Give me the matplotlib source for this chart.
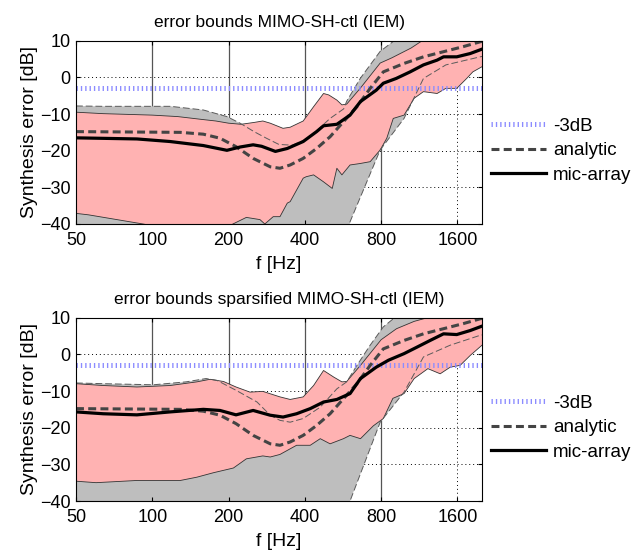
import numpy as np
import matplotlib.pyplot as plt

plt.rcParams['font.family'] = ['Liberation Sans', 'DejaVu Sans']

xticks = [50, 100, 200, 400, 800, 1600]
yticks = [-40, -30, -20, -10, 0, 10]

# analytic error (same in both panels)
ana_f = [50, 129, 159, 185, 214, 250, 292, 319, 350, 394, 445, 503, 568, 642, 724, 816, 985, 1175, 1410, 1690, 1967, 2000]
ana_db = [-14.8, -15.0, -15.5, -16.6, -18.9, -22.1, -24.4, -24.8, -23.9, -22.1, -19.4, -16.2, -12.1, -8.0, -3.0, 1.5, 3.8, 5.6, 7.0, 8.4, 9.7, 9.8]

# ---- panel 1: MIMO-SH-ctl ----
gray_hi1_f = [50, 64, 118, 159, 197, 222, 252, 282, 316, 356, 400, 448, 503, 569, 585, 663, 793, 893, 2000]
gray_hi1_db = [-7.8, -7.9, -7.9, -8.9, -10.7, -12.5, -14.8, -16.6, -18.3, -18.5, -17.1, -14.4, -11.2, -8.6, -6.5, -0.2, 7.1, 9.8, 14]
gray_lo1_f = [50, 590, 603, 793, 985, 1175, 1440, 1967, 2000]
gray_lo1_db = [-45, -45, -39.4, -19.8, -11.2, -0.3, 3.4, 5.6, 5.7]

pink_hi1_f = [50, 64, 100, 126, 158, 178, 200, 224, 252, 273, 292, 328, 350, 394, 433, 474, 497, 535, 560, 585, 663, 793, 880, 1050, 1150, 1400, 2000]
pink_hi1_db = [-9.5, -9.9, -10.3, -10.7, -11.5, -11.9, -12.5, -12.8, -12.3, -11.9, -12.5, -13.9, -13.6, -11.9, -8.0, -4.4, -4.8, -6.2, -7.5, -7.3, -2.9, 3.9, 5.3, 8.0, 9.8, 10.5, 12]
pink_lo1_f = [50, 56, 92, 120, 190, 208, 235, 266, 278, 300, 319, 341, 350, 394, 405, 433, 474, 513, 535, 560, 603, 661, 724, 793, 842, 893, 985, 1080, 1175, 1330, 1440, 1590, 1740, 1840, 2000]
pink_lo1_db = [-37.1, -37.5, -40.0, -41.5, -41.5, -40.0, -38.2, -38.8, -40.0, -38.0, -38.0, -34.3, -33.9, -27.5, -27.1, -26.6, -28.5, -30.3, -24.8, -26.6, -23.9, -23.5, -23.0, -19.8, -16.6, -11.2, -10.3, -5.7, -3.9, -4.4, -3.0, -3.0, -0.3, 1.5, 2.9]

mic1_f = [50, 87, 117.5, 159, 197, 222, 250, 270, 306, 341, 394, 445, 474, 535, 603, 663, 765, 816, 917, 1041, 1175, 1330, 1410, 1590, 1797, 2000]
mic1_db = [-16.5, -16.8, -17.5, -18.6, -19.9, -19.0, -18.4, -18.8, -20.2, -19.4, -17.5, -14.8, -13.2, -12.8, -10.3, -6.6, -3.5, -1.6, -0.3, 1.5, 3.4, 4.7, 5.6, 5.6, 6.5, 7.7]

# ---- panel 2: sparsified MIMO-SH-ctl ----
gray_hi2_f = [50, 64, 101, 136, 163, 180, 214, 259, 292, 319, 350, 394, 460, 535, 585, 642, 724, 816, 893, 2000]
gray_hi2_db = [-7.8, -8.0, -8.3, -7.5, -6.6, -7.1, -9.8, -13.0, -16.6, -18.0, -18.5, -17.5, -14.4, -9.4, -7.5, -3.0, 2.5, 7.5, 9.7, 14]
gray_lo2_f = [50, 590, 603, 793, 985, 1175, 1498, 1967, 2000]
gray_lo2_db = [-45, -45, -40.0, -18.5, -10.3, -0.7, 2.5, 5.2, 5.3]

pink_hi2_f = [50, 64, 87, 117.5, 150, 169, 191, 214, 243, 273, 319, 350, 394, 433, 474, 520, 560, 585, 663, 800, 920, 1080, 1249, 2000]
pink_hi2_db = [-8.0, -8.5, -8.9, -8.5, -7.5, -6.8, -7.4, -8.9, -10.3, -10.1, -11.6, -12.3, -11.6, -8.5, -4.4, -6.2, -7.5, -7.4, -3.0, 4.0, 7.0, 9.0, 10.2, 12]
pink_lo2_f = [50, 60, 87, 129, 150, 174, 209, 235, 273, 292, 319, 371, 420, 460, 503, 568, 603, 663, 745, 816, 890, 985, 1080, 1223, 1368, 1498, 1640, 1797, 2000]
pink_lo2_db = [-34.6, -35.0, -34.4, -34.4, -33.5, -32.3, -31.0, -28.5, -27.7, -28.0, -27.3, -24.8, -24.8, -23.0, -24.4, -23.0, -22.1, -23.0, -19.5, -17.5, -12.0, -10.7, -6.6, -3.9, -5.3, -3.5, -3.0, -0.3, 2.5]

mic2_f = [50, 64, 87, 117.5, 159, 185, 214, 250, 292, 328, 371, 420, 474, 535, 603, 663, 765, 855, 985, 1110, 1249, 1410, 1590, 1797, 2000]
mic2_db = [-15.7, -16.2, -16.5, -15.7, -15.0, -15.3, -16.5, -15.3, -16.6, -17.1, -16.2, -14.8, -13.0, -12.3, -10.7, -6.6, -3.5, -1.6, 0.2, 2.0, 3.8, 5.6, 5.4, 6.5, 7.7]


def band(ax, f_hi, db_hi, f_lo, db_lo, **kw):
    ax.fill(np.r_[f_hi, f_lo[::-1]], np.r_[db_hi, db_lo[::-1]], **kw)


def panel(ax, title, gray_hi, gray_lo, pink_hi, pink_lo, mic):
    ax.set_xscale('log')
    ax.set_xlim(50, 2000)
    ax.set_ylim(-40, 10)

    # grid (below everything)
    for f in [100, 200, 400, 800]:
        ax.axvline(f, color='#555555', lw=0.9, zorder=0.5)
    ax.axvline(1600, color='black', lw=0.7, dashes=(1, 3), zorder=0.5)
    for y in [-30, -20, -10, 0, 10]:
        ax.axhline(y, color='black', lw=0.7, dashes=(1, 3), zorder=0.5)

    band(ax, *gray_hi, *gray_lo, color='#bebebe', lw=0, zorder=1)
    band(ax, *pink_hi, *pink_lo, color='#ffb2b2', lw=0, zorder=2)
    for f, d in (pink_hi, pink_lo):
        ax.plot(f, d, color='#333333', lw=0.6, zorder=3)
    for f, d in (gray_hi, gray_lo):
        ax.plot(f, d, color='#5a5a5a', lw=0.7, dashes=(7, 3), zorder=3)

    ax.axhline(-3, color='#8c8cff', lw=3.6, dashes=(0.27, 0.6), zorder=4, label='-3dB')
    ax.plot(ana_f, ana_db, color='#444444', lw=2.2, dashes=(2.6, 1.4), zorder=5, label='analytic')
    ax.plot(*mic, color='black', lw=2.3, zorder=6, label='mic-array')

    ax.set_xticks(xticks)
    ax.set_xticklabels([str(t) for t in xticks])
    ax.xaxis.set_minor_locator(plt.NullLocator())
    ax.set_yticks(yticks)
    ax.tick_params(direction='in', length=3, top=True, right=True, labelsize=13)
    ax.tick_params(axis='x', pad=6)
    ax.tick_params(axis='y', pad=4)
    for s in ax.spines.values():
        s.set_linewidth(0.8)
        s.set_zorder(7)
    ax.set_title(title, fontsize=12.5, pad=10)
    ax.set_xlabel('f [Hz]', fontsize=14, labelpad=5)
    ax.set_ylabel('Synthesis error [dB]', fontsize=14, labelpad=1)
    ax.legend(loc='center left', bbox_to_anchor=(1.0, 0.40), frameon=False, fontsize=13.5,
              handlelength=2.9, handletextpad=0.4, labelspacing=0.4, borderaxespad=0.1)


fig = plt.figure(figsize=(6.38, 5.54), dpi=100)
ax1 = fig.add_axes([76 / 638, 1 - 224 / 554, 406 / 638, 183.3 / 554])
ax2 = fig.add_axes([76 / 638, 1 - 501 / 554, 406 / 638, 183.3 / 554])

panel(ax1, 'error bounds MIMO-SH-ctl (IEM)',
      (gray_hi1_f, gray_hi1_db), (gray_lo1_f, gray_lo1_db),
      (pink_hi1_f, pink_hi1_db), (pink_lo1_f, pink_lo1_db), (mic1_f, mic1_db))
panel(ax2, 'error bounds sparsified MIMO-SH-ctl (IEM)',
      (gray_hi2_f, gray_hi2_db), (gray_lo2_f, gray_lo2_db),
      (pink_hi2_f, pink_hi2_db), (pink_lo2_f, pink_lo2_db), (mic2_f, mic2_db))

fig.savefig('out.png', dpi=100)
